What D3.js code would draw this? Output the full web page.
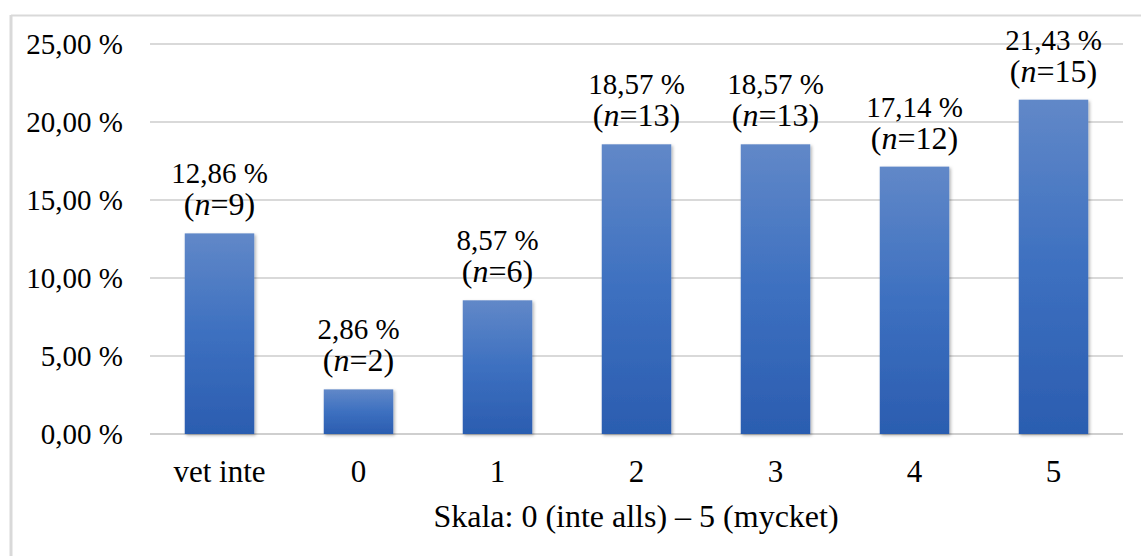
<!DOCTYPE html>
<html><head><meta charset="utf-8">
<script src="https://cdn.jsdelivr.net/npm/d3@7"></script>
<style>body{margin:0;background:#fff}svg{display:block}</style>
</head><body>
<script>
const categories = ["vet inte","0","1","2","3","4","5"];
const percents = [12.86, 2.86, 8.57, 18.57, 18.57, 17.14, 21.43];
const counts = [9, 2, 6, 13, 13, 12, 15];
const yTicks = [0,5,10,15,20,25];
const axisTitle = "Skala: 0 (inte alls) – 5 (mycket)";

const W=1141,H=556;
const svg=d3.select("body").append("svg").attr("width",W).attr("height",H);
const font="Liberation Serif, Times New Roman, serif";
const defs=svg.append("defs");
const g=defs.append("linearGradient").attr("id","bg").attr("x1",0).attr("y1",0).attr("x2",0).attr("y2",1);
g.append("stop").attr("offset","0%").attr("stop-color","#6188c8");
g.append("stop").attr("offset","50%").attr("stop-color","#3d70c0");
g.append("stop").attr("offset","100%").attr("stop-color","#2b5db0");
const f=defs.append("filter").attr("id","sh").attr("x","-20%").attr("y","-20%").attr("width","150%").attr("height","150%");
f.append("feDropShadow").attr("dx",1.5).attr("dy",1.5).attr("stdDeviation",1.5).attr("flood-color","#000").attr("flood-opacity",0.3);

// outer frame
svg.append("line").attr("x1",11).attr("x2",W).attr("y1",15.5).attr("y2",15.5).attr("stroke","#d9d9d9").attr("stroke-width",2);
svg.append("line").attr("x1",11).attr("x2",11).attr("y1",15).attr("y2",H).attr("stroke","#d9d9d9").attr("stroke-width",3);

const x=d3.scaleBand().domain(categories).range([150,1123]).paddingInner(0.5).paddingOuter(0.25);
const y=d3.scaleLinear().domain([0,25]).range([434,44]);

const grid=svg.append("g");
grid.selectAll("line").data(yTicks).join("line")
 .attr("x1",150).attr("x2",1123).attr("y1",d=>y(d)).attr("y2",d=>y(d))
 .attr("stroke",d=>d===0?"#cfcfcf":"#d9d9d9").attr("stroke-width",2);

const yAxis=d3.axisLeft(y).tickValues(yTicks).tickSize(0).tickPadding(0)
 .tickFormat(d=>d3.format(".2f")(d).replace(".",",")+" %");
const ya=svg.append("g").attr("transform","translate(123,0)").call(yAxis);
ya.attr("font-family",null).attr("font-size",null);
ya.select(".domain").remove();
ya.selectAll("text").style("font-family",font).style("font-size","29px").attr("fill","#000").attr("dy","0.33em");

const xAxis=d3.axisBottom(x).tickSize(0).tickPadding(0);
const xa=svg.append("g").attr("transform","translate(0,482)").call(xAxis);
xa.attr("font-family",null).attr("font-size",null);
xa.select(".domain").remove();
xa.selectAll("text").style("font-family",font).style("font-size","31px").attr("fill","#000").attr("dy",0);

svg.append("text").attr("x",636).attr("y",527).attr("text-anchor","middle")
 .style("font-family",font).style("font-size","32px").text(axisTitle);

const data=categories.map((c,i)=>({c,p:percents[i],n:counts[i]}));
svg.append("g").selectAll("rect").data(data).join("rect")
 .attr("x",d=>x(d.c)).attr("width",x.bandwidth())
 .attr("y",d=>y(d.p)).attr("height",d=>y(0)-y(d.p))
 .attr("fill","url(#bg)").attr("filter","url(#sh)");

const lab=svg.append("g").style("font-family",font).attr("text-anchor","middle");
data.forEach(d=>{
  const cx=x(d.c)+x.bandwidth()/2, top=y(d.p);
  lab.append("text").attr("x",cx).attr("y",top-50).style("font-size","29px").text(d3.format(".2f")(d.p).replace(".",",")+" %");
  const t=lab.append("text").attr("x",cx).attr("y",top-18).style("font-size","32px");
  t.append("tspan").text("(");
  t.append("tspan").attr("font-style","italic").text("n");
  t.append("tspan").text("="+d.n+")");
});
</script>
</body></html>
